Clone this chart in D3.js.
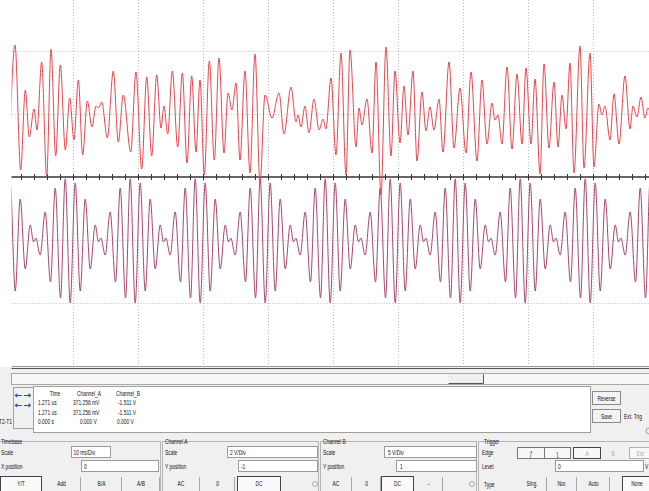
<!DOCTYPE html>
<html>
<head>
<meta charset="utf-8">
<script src="https://cdn.jsdelivr.net/npm/d3@7"></script>
<style>
  body { margin: 0; background: #fff; overflow: hidden; }
  text { font-family: "Liberation Sans", Arial, sans-serif; font-size: 6.5px; fill: #111; }
</style>
</head>
<body>
<div id="scope"></div>
<script>
// ---------- instrument settings ----------
const msPerDiv = 10;
const chAScale = 2, chAPos = -1;   // V/Div, divisions
const chBScale = 5, chBPos = 1;

const readoutHeads = ["Time", "Channel_A", "Channel_B"];
const readoutRows = [
    ["1.271 us", "371.256 mV", "-1.511 V"],
    ["1.271 us", "371.256 mV", "-1.511 V"],
    ["0.000 s", "0.000 V", "0.000 V"]
];

// ---------- traces: turning points [ms, V] ----------
// Channel B (red, upper trace)
const chBTrace = [
    [0.08, -5.25], [1.08, 5.48], [1.95, -4.44], [2.66, 1.90], [3.28, -1.83], [4.00, 0.40], [4.46, -1.27], [5.18, 4.13],
    [5.95, -5.00], [6.62, 5.16], [7.34, -3.33], [8.05, 3.89], [8.82, -2.86], [9.49, 1.27], [10.15, -2.06], [10.82, 2.70],
    [11.49, -3.25], [12.20, 1.03], [12.92, -1.03], [13.54, 0.63], [13.92, 0.48], [14.42, 0.95], [15.28, -1.90], [16.20, 3.41],
    [16.97, -2.22], [17.74, 1.51], [18.88, -3.02], [19.69, 3.33], [20.57, -4.37], [21.34, 2.94], [22.11, -3.33], [22.88, 3.10],
    [23.54, -1.11], [24.00, 0.63], [24.57, -1.59], [25.28, 3.41], [26.11, -2.62], [26.82, 3.25], [27.54, -3.89], [28.26, 3.02],
    [28.92, -3.02], [29.54, 2.70], [30.20, -4.84], [30.97, 4.21], [31.74, -3.65], [32.46, 4.44], [33.23, -3.10], [33.85, 1.67],
    [34.46, 0.32], [35.08, 2.46], [35.69, -3.65], [36.46, 3.41], [37.23, -4.68], [38.00, 4.76], [38.77, -5.48], [39.54, 1.51],
    [40.62, -0.32], [41.69, 1.67], [42.46, -1.59], [43.54, 2.14], [44.31, -0.63], [44.62, -0.08], [45.08, -1.03], [45.69, 0.63],
    [46.31, -1.51], [47.08, 1.19], [47.85, -1.27], [48.46, -0.40], [48.92, -1.19], [49.69, 2.86], [50.46, -3.25], [51.23, 4.84],
    [52.00, -4.84], [52.62, 5.08], [53.54, -2.62], [54.00, 0.48], [54.46, -0.87], [55.23, 1.19], [56.00, -3.10], [56.62, 4.13],
    [57.38, -6.43], [58.15, 5.32], [58.92, -3.33], [59.54, 3.41], [60.31, -2.30], [60.92, 2.22], [61.54, -1.67], [62.31, 3.41],
    [62.92, -3.73], [63.69, 1.75], [64.31, -1.35], [64.92, 0.56], [65.54, -1.27], [66.31, 1.19], [66.92, -3.02], [67.85, 4.13],
    [68.62, -2.70], [69.54, 2.06], [70.46, -3.10], [71.23, 3.33], [72.15, -3.73], [72.92, 2.70], [73.69, -2.38], [74.46, 0.87],
    [74.92, -0.48], [75.38, -0.08], [76.00, -2.38], [76.77, 3.73], [77.54, -2.78], [78.31, 3.17], [79.08, -2.38], [79.69, 3.65],
    [80.46, -2.38], [81.08, 2.78], [81.85, -4.76], [82.46, 3.97], [83.23, -2.70], [84.00, 2.54], [84.62, -2.62], [85.23, 1.51],
    [85.85, -1.19], [86.46, 4.05], [87.08, -4.68], [88.00, 5.40], [88.62, -4.29], [89.54, 4.84], [90.15, -4.21], [90.92, 0.79],
    [91.38, -0.08], [91.85, 0.63], [92.62, -2.06], [93.23, 1.59], [94.00, -2.38], [94.92, 3.02], [95.69, -1.19], [96.15, 0.63],
    [96.77, -0.24], [97.38, 1.35], [98.00, -0.32], [98.46, 0.48], [99.08, -0.87]
];

// Channel A (maroon, lower trace)
const chATrace = [
    [-1.20, 1.94], [-0.43, -2.00], [0.34, 1.81], [1.11, -1.62], [1.88, 1.30], [2.65, -0.92], [3.42, 0.48], [3.92, -0.06], [4.29, 0.06], [4.95, -0.48], [5.72, 0.89], [6.54, -1.33], [7.26, 1.65], [8.08, -1.84],
    [8.80, 1.94], [9.57, -2.00], [10.34, 1.81], [11.11, -1.62], [11.88, 1.30], [12.65, -0.92], [13.42, 0.48], [13.92, -0.06], [14.29, 0.06], [14.95, -0.48], [15.72, 0.89], [16.54, -1.33], [17.26, 1.65], [18.08, -1.84],
    [18.80, 1.94], [19.57, -2.00], [20.34, 1.81], [21.11, -1.62], [21.88, 1.30], [22.65, -0.92], [23.42, 0.48], [23.92, -0.06], [24.29, 0.06], [24.95, -0.48], [25.72, 0.89], [26.54, -1.33], [27.26, 1.65], [28.08, -1.84],
    [28.80, 1.94], [29.57, -2.00], [30.34, 1.81], [31.11, -1.62], [31.88, 1.30], [32.65, -0.92], [33.42, 0.48], [33.92, -0.06], [34.29, 0.06], [34.95, -0.48], [35.72, 0.89], [36.54, -1.33], [37.26, 1.65], [38.08, -1.84],
    [38.80, 1.94], [39.57, -2.00], [40.34, 1.81], [41.11, -1.62], [41.88, 1.30], [42.65, -0.92], [43.42, 0.48], [43.92, -0.06], [44.29, 0.06], [44.95, -0.48], [45.72, 0.89], [46.54, -1.33], [47.26, 1.65], [48.08, -1.84],
    [48.80, 1.94], [49.57, -2.00], [50.34, 1.81], [51.11, -1.62], [51.88, 1.30], [52.65, -0.92], [53.42, 0.48], [53.92, -0.06], [54.29, 0.06], [54.95, -0.48], [55.72, 0.89], [56.54, -1.33], [57.26, 1.65], [58.08, -1.84],
    [58.80, 1.94], [59.57, -2.00], [60.34, 1.81], [61.11, -1.62], [61.88, 1.30], [62.65, -0.92], [63.42, 0.48], [63.92, -0.06], [64.29, 0.06], [64.95, -0.48], [65.72, 0.89], [66.54, -1.33], [67.26, 1.65], [68.08, -1.84],
    [68.80, 1.94], [69.57, -2.00], [70.34, 1.81], [71.11, -1.62], [71.88, 1.30], [72.65, -0.92], [73.42, 0.48], [73.92, -0.06], [74.29, 0.06], [74.95, -0.48], [75.72, 0.89], [76.54, -1.33], [77.26, 1.65], [78.08, -1.84],
    [78.80, 1.94], [79.57, -2.00], [80.34, 1.81], [81.11, -1.62], [81.88, 1.30], [82.65, -0.92], [83.42, 0.48], [83.92, -0.06], [84.29, 0.06], [84.95, -0.48], [85.72, 0.89], [86.54, -1.33], [87.26, 1.65], [88.08, -1.84],
    [88.80, 1.94], [89.57, -2.00], [90.34, 1.81], [91.11, -1.62], [91.88, 1.30], [92.65, -0.92], [93.42, 0.48], [93.92, -0.06], [94.29, 0.06], [94.95, -0.48], [95.72, 0.89], [96.54, -1.33], [97.26, 1.65], [98.08, -1.84],
    [98.80, 1.94], [99.57, -2.00], [100.34, 1.81]
];

// ---------- layout ----------
const W = 649, H = 491;
const screen = {left: 11.5, right: 649, top: 0, bottom: 366};

const svg = d3.select("#scope")
    .append("svg")
    .attr("width", W)
    .attr("height", H);

// time in ms -> px, grid every 10 ms
const x = d3.scaleLinear().domain([0, 100]).range([8, 658]);
// screen divisions -> px (0 = centre axis)
const yDiv = d3.scaleLinear().domain([0, 1]).range([177, 114]);

svg.append("defs").append("clipPath").attr("id", "clip")
    .append("rect")
    .attr("x", screen.left).attr("y", screen.top)
    .attr("width", screen.right - screen.left).attr("height", screen.bottom - screen.top);

// dotted grid
const gridX = d3.range(msPerDiv, 100, msPerDiv);
const gridY = [-2, -1, 1, 2];
const grid = svg.append("g").attr("stroke", "#bcbcbc").attr("stroke-dasharray", "1,2");
grid.selectAll("line.v").data(gridX).enter().append("line")
    .attr("x1", d => Math.round(x(d)) + 0.5).attr("x2", d => Math.round(x(d)) + 0.5)
    .attr("y1", screen.top).attr("y2", screen.bottom);
grid.selectAll("line.h").data(gridY).enter().append("line")
    .attr("x1", screen.left).attr("x2", screen.right)
    .attr("y1", d => Math.round(yDiv(d)) + 0.5).attr("y2", d => Math.round(yDiv(d)) + 0.5);

// centre axis with minor ticks every 2 ms
const axis = svg.append("g")
    .attr("transform", "translate(0,174)")
    .attr("clip-path", "url(#clip)")
    .call(d3.axisBottom(x).tickValues(d3.range(0, 101, 2)).tickSize(6).tickFormat(""));
axis.select(".domain").remove();
axis.selectAll(".tick line").attr("stroke", "#333");
svg.append("line")
    .attr("x1", screen.left).attr("x2", screen.right)
    .attr("y1", yDiv(0)).attr("y2", yDiv(0))
    .attr("stroke", "#333").attr("stroke-width", 1.3);

// traces
const trace = (scale, pos) => d3.line()
    .x(d => x(d[0]))
    .y(d => yDiv(pos + d[1] / scale))
    .curve(d3.curveMonotoneX);

const traces = svg.append("g").attr("clip-path", "url(#clip)").attr("fill", "none");
traces.append("path").datum(chATrace)
    .attr("d", trace(chAScale, chAPos))
    .attr("stroke", "#a84670").attr("stroke-width", 1);
traces.append("path").datum(chBTrace)
    .attr("d", trace(chBScale, chBPos))
    .attr("stroke", "#e6464f").attr("stroke-width", 1);

// ---------- control panel ----------
const panel = svg.append("g");
panel.append("rect").attr("x", 0).attr("y", 367).attr("width", W).attr("height", H - 367).attr("fill", "#f0f0f0");
panel.append("line").attr("x1", screen.left).attr("x2", W).attr("y1", 366.5).attr("y2", 366.5).attr("stroke", "#9a9a9a");
panel.append("line").attr("x1", screen.left).attr("x2", W).attr("y1", 368.5).attr("y2", 368.5).attr("stroke", "#555").attr("stroke-width", 1.2);

// text helper (narrow, like the screenshot)
function label(g, px, py, s, anchor, fill) {
    return g.append("text")
        .attr("transform", `translate(${px},${py}) scale(0.75,1)`)
        .attr("text-anchor", anchor || "start")
        .style("fill", fill || "#111")
        .text(s);
}
function box(g, bx, by, bw, bh, fill, stroke) {
    return g.append("rect").attr("x", bx).attr("y", by).attr("width", bw).attr("height", bh)
        .attr("fill", fill || "#fff").attr("stroke", stroke || "#9a9a9a");
}

// scrollbar
box(panel, 11.5, 373.5, 640, 11, "#f7f7f7", "#a8a8a8");
box(panel, 448.5, 374.5, 35, 9, "#efefef", "none");
panel.append("path").attr("d", "M448.5,383.5H483.5V374.5").attr("fill", "none").attr("stroke", "#555");

// cursor readout
box(panel, 13.5, 387.5, 20, 41, "#f0f0f0", "#a0a0a0");
[398, 408].forEach(ay => {
    panel.append("text").attr("x", 14.5).attr("y", ay)
        .style("font-family", "DejaVu Sans").style("font-size", "9px").style("fill", "#1f45b0").style("font-weight", "bold")
        .text("\u2190");
    panel.append("text").attr("x", 23.5).attr("y", ay)
        .style("font-family", "DejaVu Sans").style("font-size", "9px").style("fill", "#1f45b0").style("font-weight", "bold")
        .text("\u2192");
});
label(panel, 12, 424, "T2-T1", "end");
box(panel, 33.5, 386.5, 557, 46, "#fff", "#a0a0a0");
const colX = [55, 89, 128];
const valX = [[38, 73, 118], [38, 73, 118], [38, 80, 117]];
readoutHeads.forEach((h, i) => label(panel, colX[i], 396, h, "middle"));
readoutRows.forEach((row, r) => row.forEach((v, i) => label(panel, valX[r][i], 405 + r * 9.5, v)));

box(panel, 592.5, 391.5, 28, 13, "#f3f3f3", "#8a8a8a");
label(panel, 606.5, 400.5, "Reverse", "middle");
box(panel, 592.5, 409.5, 28, 13, "#f3f3f3", "#8a8a8a");
label(panel, 606.5, 418.5, "Save", "middle");
label(panel, 624, 418.5, "Ext. Trig");
panel.append("circle").attr("cx", 649).attr("cy", 431).attr("r", 3).attr("fill", "none").attr("stroke", "#999");

// group boxes
function group(gx, gw, title, tx) {
    box(panel, gx, 441.5, gw, 60, "none", "#b4b4b4");
    const t = label(panel, tx, 444, title);
    const tw = t.node().getComputedTextLength() * 0.75;
    panel.insert("rect", "text").attr("x", tx - 1).attr("y", 438).attr("width", tw + 3).attr("height", 7).attr("fill", "#f0f0f0");
}
group(-6.5, 167, "Timebase", 1);
group(162.5, 156, "Channel A", 165);
group(320.5, 156, "Channel B", 323);
group(478.5, 180, "Trigger", 484);

function button(bx, bw, s, selected, grey) {
    if (selected) box(panel, bx + 0.5, 476.5, bw - 1, 18, "#fafafa", "#444");
    else panel.append("line").attr("x1", bx + bw - 0.5).attr("x2", bx + bw - 0.5).attr("y1", 477).attr("y2", 491).attr("stroke", "#a8a8a8");
    label(panel, bx + bw / 2, 486, s, "middle", grey ? "#a8a8a8" : "#111");
}

function timebase() { return msPerDiv + " ms/Div"; }

// timebase
label(panel, 1, 455, "Scale");
box(panel, 71.5, 446.5, 39, 11);
label(panel, 73.5, 455, timebase());
label(panel, 1, 469, "X position");
box(panel, 81.5, 460.5, 77, 11);
label(panel, 84, 469, "0");
button(0, 42, "Y/T", true);
button(42, 39, "Add");
button(81, 41, "B/A");
button(122, 38, "A/B");

// channel A
label(panel, 165, 455, "Scale");
box(panel, 227.5, 446.5, 90, 11);
label(panel, 230, 455, chAScale + " V/Div");
label(panel, 165, 469, "Y position");
box(panel, 238.5, 460.5, 79, 11);
label(panel, 241, 469, String(chAPos));
button(162, 38, "AC");
button(200, 35, "0");
button(237, 44, "DC", true);
panel.append("circle").attr("cx", 315).attr("cy", 484).attr("r", 2.5).attr("fill", "none").attr("stroke", "#aaa");

// channel B
label(panel, 323, 455, "Scale");
box(panel, 384.5, 446.5, 92, 11);
label(panel, 388, 455, chBScale + " V/Div");
label(panel, 323, 469, "Y position");
box(panel, 396.5, 460.5, 80, 11);
label(panel, 400, 469, String(chBPos));
button(320, 32, "AC");
button(352, 29, "0");
button(381, 33, "DC", true);
button(414, 29, "-");
panel.append("circle").attr("cx", 472).attr("cy", 484).attr("r", 2.5).attr("fill", "none").attr("stroke", "#aaa");

// trigger
label(panel, 482, 455, "Edge");
box(panel, 517.5, 447.5, 27, 11, "#f7f7f7", "#777");
label(panel, 531, 456, "\u0192", "middle");
box(panel, 544.5, 447.5, 26, 11, "#f7f7f7", "#777");
label(panel, 557.5, 456, "\u0285", "middle");
box(panel, 573.5, 447.5, 27, 11, "#f7f7f7", "#444");
label(panel, 587, 456, "A", "middle", "#a8a8a8");
label(panel, 613, 456, "B", "middle", "#a8a8a8");
box(panel, 629.5, 447.5, 25, 11, "#f7f7f7", "#b0b0b0");
label(panel, 640, 456, "Ext", "middle", "#a8a8a8");
label(panel, 482, 469, "Level");
box(panel, 555.5, 460.5, 88, 11);
label(panel, 558, 469, "0");
label(panel, 645, 469, "V");
label(panel, 484, 487, "Type");
button(517, 30, "Sing.");
button(547, 30, "Nor.");
button(577, 33, "Auto");
button(622, 30, "None", true);
</script>
</body>
</html>
